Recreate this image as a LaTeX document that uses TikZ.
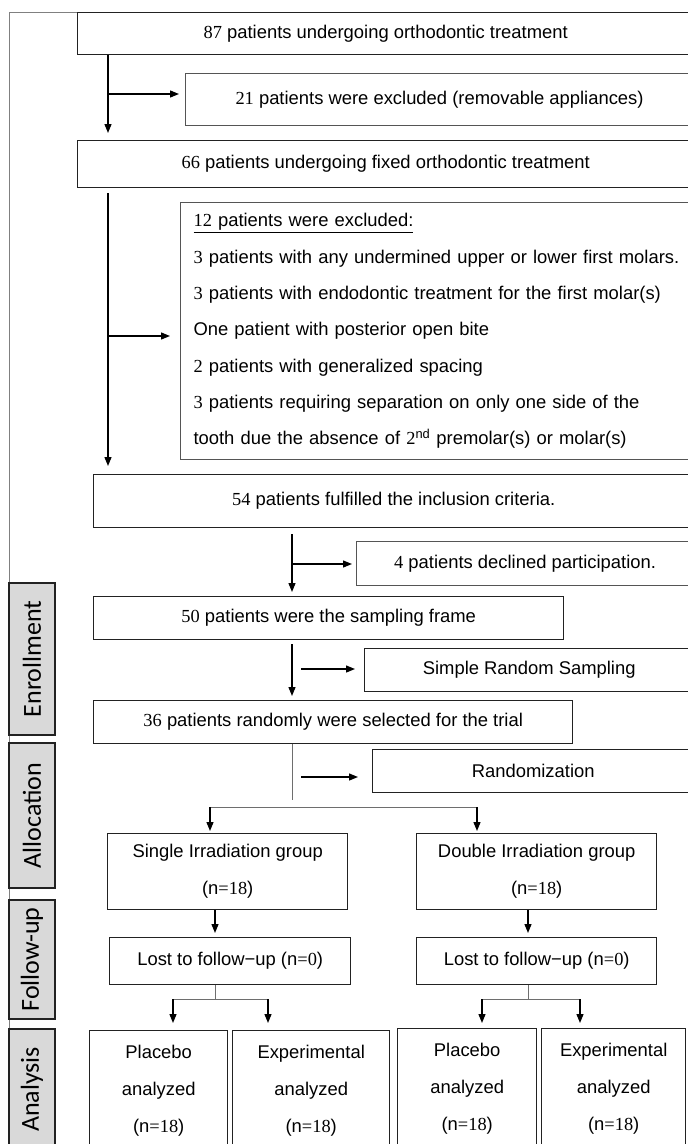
\documentclass[tikz,border=0pt]{standalone}
\usepackage{fontspec}
\setmainfont{Liberation Sans}
\newfontfamily\numfont{Liberation Serif}
\newfontfamily\tabfont{Carlito}
\usetikzlibrary{arrows.meta,positioning,calc}
\definecolor{boxline}  {HTML}{222222}
\definecolor{boxgray}  {HTML}{555555}
\definecolor{tabfill}  {HTML}{D9D9D9}
\definecolor{splitgray}{HTML}{6E6E6E}
\definecolor{framegray}{HTML}{808080}
\newcommand{\nm}[1]{{\numfont #1}}

\begin{document}
\begin{tikzpicture}[x=1pt,y=-1pt,
  box/.style={draw=boxline,line width=1.4pt,inner sep=0pt,anchor=north west,
              align=center,font=\fontsize{18.4}{37}\selectfont},
  thinbox/.style={box,draw=boxgray,line width=1.1pt},
  tab/.style={draw=boxline,fill=tabfill,line width=1.2pt,rotate=90,inner sep=0pt,
              minimum height=46,font=\tabfont\fontsize{26}{30}\selectfont},
  flow/.style={draw=black,line width=1.3pt,shorten >=4pt,-{Triangle[length=9pt,width=7pt]}},
  split/.style={draw=splitgray,line width=1pt},
  frameline/.style={draw=framegray,line width=1pt}]
\useasboundingbox (0,0) rectangle (688,1144);
% trunks and junctions
\coordinate (t1) at (108,0);
\coordinate (t2) at (292,0);
\coordinate (t3) at (215,0);
\coordinate (t4) at (528,0);
\coordinate (j1) at (108,94);
\coordinate (j2) at (108,336);
\coordinate (j3) at (292,564);
\coordinate (j4) at (301,669);
\coordinate (j5) at (301,777);
\coordinate (j6) at (292,800);
\coordinate (gl) at (210,807);
\coordinate (gr) at (477,807);
\coordinate (k1l) at (173,999);
\coordinate (k1r) at (268,999);
\coordinate (k2l) at (482,999);
\coordinate (k2r) at (580,999);
\coordinate (fbot) at (9,1150);
% boxes
\node[box,minimum width=616,minimum height=42] (b87) at (77,12) {\nm{87} patients undergoing orthodontic treatment};
\node[thinbox,minimum width=508,minimum height=52] (b21) at (185,73) {\nm{21} patients were excluded (removable appliances)};
\node[box,minimum width=616,minimum height=47] (b66) at (77,140) {\nm{66} patients undergoing fixed orthodontic treatment};
\node[thinbox,align=left,text width=495,inner xsep=13pt,minimum height=257,
      font=\fontsize{18.4}{36.3}\selectfont] (b12) at (180,202) {\underline{\nm{12} patients were excluded:}\\
\nm{3} patients with any undermined upper or lower first molars.\\
\nm{3} patients with endodontic treatment for the first molar(s)\\
One patient with posterior open bite\\
\nm{2} patients with generalized spacing\\
\nm{3} patients requiring separation on only one side of the\\
tooth due the absence of \nm{2}\textsuperscript{nd} premolar(s) or molar(s)};
\node[box,minimum width=600,minimum height=53] (b54) at (93,474) {\nm{54} patients fulfilled the inclusion criteria.};
\node[thinbox,minimum width=337,minimum height=44] (b4) at (356,541) {\nm{4} patients declined participation.};
\node[box,minimum width=470,minimum height=43] (b50) at (93,596) {\nm{50} patients were the sampling frame};
\node[box,minimum width=329,minimum height=43] (bsrs) at (364,648) {Simple Random Sampling};
\node[box,minimum width=479,minimum height=43] (b36) at (93,700) {\nm{36} patients randomly were selected for the trial};
\node[box,minimum width=321,minimum height=43] (brand) at (372,749) {Randomization};
\node[box,minimum width=240,minimum height=76] (bsingle) at (107,833) {Single Irradiation group\\(n\nm{=18})};
\node[box,minimum width=240,minimum height=76] (bdouble) at (416,833) {Double Irradiation group\\(n\nm{=18})};
\node[box,minimum width=241,minimum height=47] (blost1) at (109,937) {Lost to follow−up (n\nm{=0})};
\node[box,minimum width=240,minimum height=47] (blost2) at (416,937) {Lost to follow−up (n\nm{=0})};
\node[box,minimum width=138,minimum height=121] (bp1) at (89,1030) {Placebo\\analyzed\\(n\nm{=18})};
\node[box,minimum width=157,minimum height=121] (be1) at (232,1030) {Experimental\\analyzed\\(n\nm{=18})};
\node[box,minimum width=139,minimum height=121] (bp2) at (397,1028) {Placebo\\analyzed\\(n\nm{=18})};
\node[box,minimum width=144,minimum height=121] (be2) at (541,1028) {Experimental\\analyzed\\(n\nm{=18})};
% side frame and stage tabs
\draw[frameline] (b87.north west) -| (fbot);
\node[tab,minimum width=152] (tenr) at (32,659) {Enrollment};
\node[tab,minimum width=145] (tall) at (32,815.5) {Allocation};
\node[tab,minimum width=119] (tfol) at (32,959.5) {Follow-up};
\node[tab,minimum width=121] (tana) at (32,1089.5) {Analysis};
% connectors
\draw[flow,shorten >=7pt] (b87.south -| t1) -- (b66.north -| t1);
\draw[flow,shorten >=6pt] (j1) -- (j1 -| b21.west);
\draw[flow,shorten <=5pt,shorten >=8pt] (b66.south -| t1) -- (b54.north -| t1);
\draw[flow,shorten >=10pt] (j2) -- (j2 -| b12.west);
\draw[flow,shorten <=6pt] (b54.south -| t2) -- (b50.north -| t2);
\draw[flow] (j3) -- (j3 -| b4.west);
\draw[flow,shorten <=4pt] (b50.south -| t2) -- (b36.north -| t2);
\draw[flow,shorten >=9pt] (j4) -- (j4 -| bsrs.west);
\draw[split] (b36.south -| t2) -- (j6);
\draw[flow,shorten >=14pt] (j5) -- (j5 -| brand.west);
\draw[split] (gl) -- (gr);
\draw[flow,shorten >=2pt] (gl) -- (gl |- bsingle.north);
\draw[flow,shorten >=2pt] (gr) -- (gr |- bdouble.north);
\draw[flow] (bsingle.south -| t3) -- (blost1.north -| t3);
\draw[flow] (bdouble.south -| t4) -- (blost2.north -| t4);
\draw[split] (blost1.south -| t3) -- (t3 |- k1l);
\draw[split] (k1l) -- (k1r);
\draw[flow,shorten >=7pt] (k1l) -- (k1l |- bp1.north);
\draw[flow,shorten >=7pt] (k1r) -- (k1r |- be1.north);
\draw[split] (blost2.south -| t4) -- (t4 |- k2l);
\draw[split] (k2l) -- (k2r);
\draw[flow,shorten >=5pt] (k2l) -- (k2l |- bp2.north);
\draw[flow,shorten >=5pt] (k2r) -- (k2r |- be2.north);
\end{tikzpicture}
\end{document}
